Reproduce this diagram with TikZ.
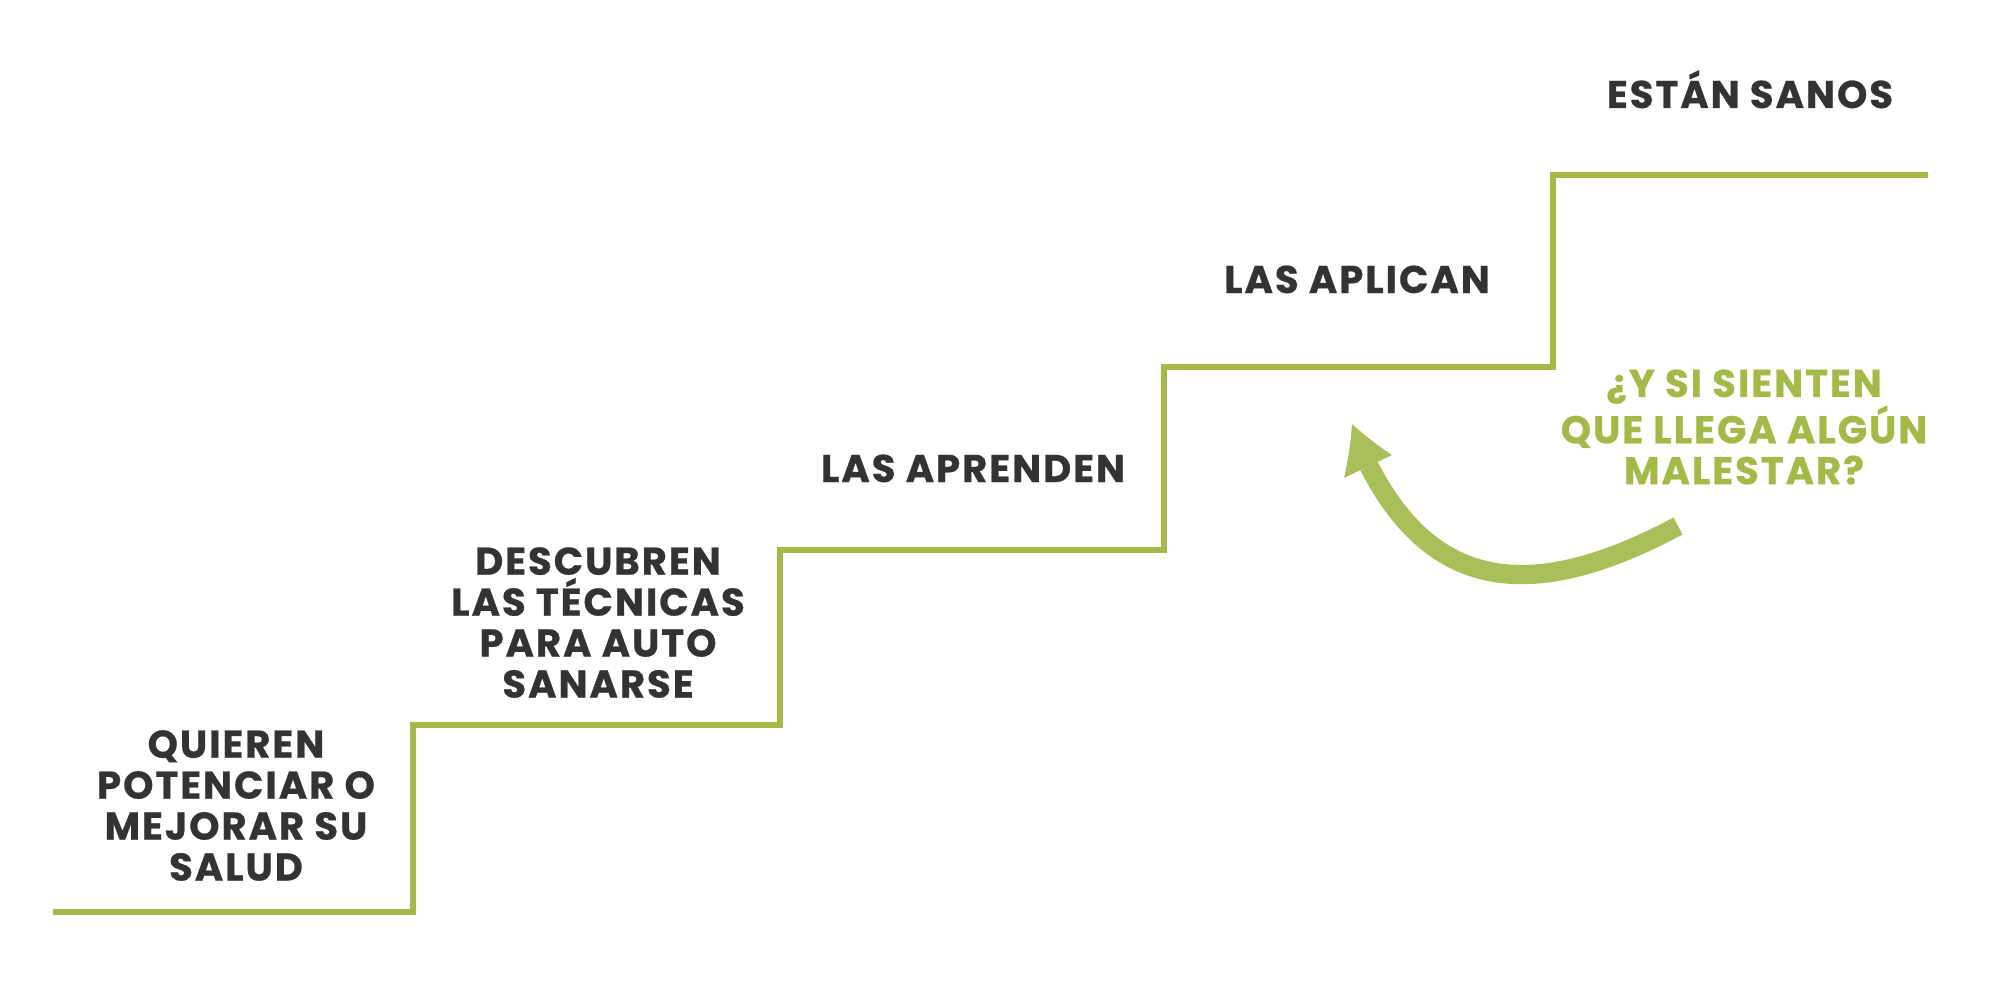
\documentclass[tikz,border=0pt]{standalone}
\usepackage{fontspec}
\setmainfont{Poppins}[LetterSpace=5, BoldFeatures={FakeBold=0.6}]
\definecolor{txtdark}{HTML}{333333}
\definecolor{stairgreen}{HTML}{A3BA48}
\definecolor{arrowgreen}{HTML}{A9C05A}
\begin{document}
\begin{tikzpicture}[x=0.02cm,y=-0.02cm,
  lbl/.style={font=\bfseries\fontsize{22}{23.3}\selectfont, text=txtdark, align=center, inner sep=0pt},
  qlbl/.style={lbl, text=stairgreen},
  stair/.style={draw=stairgreen, line width=3.1pt, line join=miter, line cap=butt}]
\useasboundingbox (0,0) rectangle (2000,980);
% staircase corners
\coordinate (s0) at (53,912);
\coordinate (s1) at (413,912);
\coordinate (s2) at (413,725);
\coordinate (s3) at (780,725);
\coordinate (s4) at (780,550);
\coordinate (s5) at (1164,550);
\coordinate (s6) at (1164,367);
\coordinate (s7) at (1553,367);
\coordinate (s8) at (1553,175);
\coordinate (s9) at (1928,175);
\draw[stair] (s0) -- (s1) -- (s2) -- (s3) -- (s4) -- (s5) -- (s6) -- (s7) -- (s8) -- (s9);
% labels
\node[lbl] (q1) at (236,805.5) {QUIEREN\\POTENCIAR O\\MEJORAR SU\\SALUD};
\node[lbl] (q2) at (598,622.5) {DESCUBREN\\LAS TÉCNICAS\\PARA AUTO\\SANARSE};
\node[lbl, anchor=base] (q3) at (973,482) {LAS APRENDEN};
\node[lbl, anchor=base] (q4) at (1357,293) {LAS APLICAN};
\node[lbl, anchor=base] (q5) at (1750,108) {ESTÁN SANOS};
\node[qlbl] (q6) at (1744,427) {¿Y SI SIENTEN\\QUE LLEGA ALGÚN\\MALESTAR?};
% curved arrow
\coordinate (tail) at (1678,526);
\coordinate (hbase) at (1369,466);
\coordinate (tip) at (1352,424);
\coordinate (barbL) at (1344,478);
\coordinate (barbR) at (1392,455);
\draw[arrowgreen, line width=11pt, line cap=butt] (tail) .. controls (1525,608) and (1430,585) .. (hbase);
\fill[arrowgreen] (tip) to[bend left=4] (barbL) -- (barbR) to[bend left=4] (tip) -- cycle;
\end{tikzpicture}
\end{document}
